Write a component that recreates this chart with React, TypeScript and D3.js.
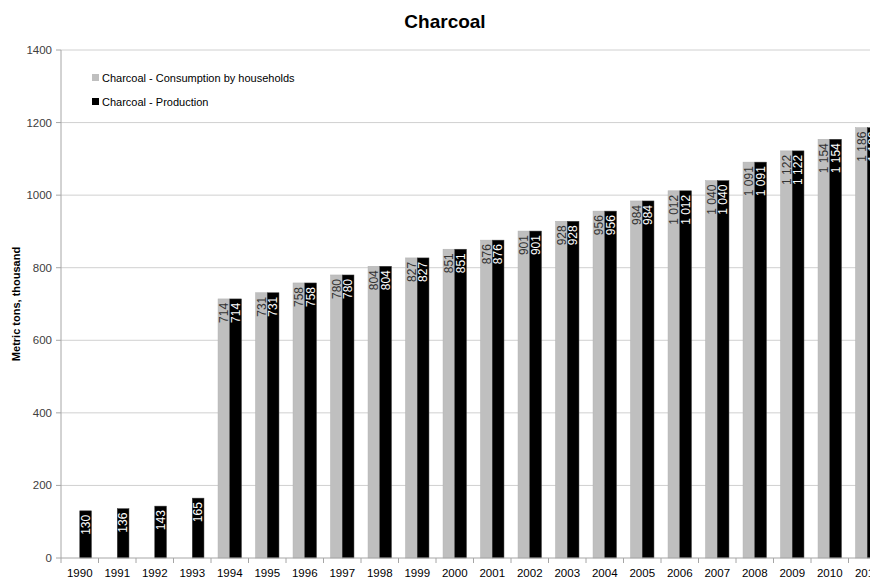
import React from "react";
import * as d3 from "d3";

const years = ["1990","1991","1992","1993","1994","1995","1996","1997","1998","1999","2000","2001","2002","2003","2004","2005","2006","2007","2008","2009","2010","2011"];
const consumption: (number | null)[] = [null,null,null,null,714,731,758,780,804,827,851,876,901,928,956,984,1012,1040,1091,1122,1154,1186];
const production: number[] = [130,136,143,165,714,731,758,780,804,827,851,876,901,928,956,984,1012,1040,1091,1122,1154,1186];
const yTicks = [0,200,400,600,800,1000,1200,1400];
const seriesNames = ["Charcoal - Consumption by households", "Charcoal - Production"];
const seriesColors = ["#bfbfbf", "#000000"];
const labelColors = ["#333333", "#ffffff"];

const W = 870, H = 579;
const left = 61, top = 50, bottom = 558;
const step = 37.5;
const font = "'Liberation Sans', Arial, sans-serif";

const fmt = (v: number) => {
  const s = String(v);
  return s.length > 3 ? s.slice(0, s.length - 3) + " " + s.slice(-3) : s;
};

export default function App() {
  const x = d3.scaleBand<string>().domain(years).range([left, left + years.length * step]).paddingInner(0).paddingOuter(0);
  const inner = d3.scaleBand<string>().domain(["c", "p"]).range([0, x.bandwidth()]).paddingInner(0).paddingOuter(0.6);
  const y = d3.scaleLinear().domain([0, 1400]).range([bottom, top]);
  const series = [consumption, production];
  const keys = ["c", "p"];

  return (
    <svg width={W} height={H} style={{ position: "absolute", left: 0, top: 0, background: "#fff" }} fontFamily={font}>
      <text x={445} y={28} textAnchor="middle" fontSize={19} fontWeight="bold" fill="#000">Charcoal</text>
      {yTicks.map(t => (
        <g key={t}>
          {t > 0 && <line x1={left} x2={W} y1={y(t)} y2={y(t)} stroke="#d0d0d0" strokeWidth={1} />}
          <line x1={left - 5} x2={left} y1={y(t)} y2={y(t)} stroke="#a6a6a6" />
          <text x={left - 9} y={y(t)} dy="0.35em" textAnchor="end" fontSize={11.5} fill="#404040">{t}</text>
        </g>
      ))}
      <text transform={`translate(20,${(top + bottom) / 2}) rotate(-90)`} textAnchor="middle" fontSize={11} fontWeight="bold" fill="#000">Metric tons,  thousand</text>
      {series.map((vals, si) => (
        <g key={si}>
          {years.map((yr, i) => {
            const v = vals[i];
            if (v == null) return null;
            const bx = (x(yr) as number) + (inner(keys[si]) as number);
            const bw = inner.bandwidth();
            return (
              <g key={yr}>
                <rect x={bx} y={y(v)} width={bw} height={y(0) - y(v)} fill={seriesColors[si]} stroke={si === 0 ? "#b0b0b0" : "#404040"} strokeWidth={0.5} />
                <text transform={`translate(${bx + bw / 2},${y(v) + 4}) rotate(-90)`} textAnchor="end" dy="0.35em" fontSize={12} fill={labelColors[si]}>{fmt(v)}</text>
              </g>
            );
          })}
        </g>
      ))}
      <line x1={left} x2={left} y1={top} y2={bottom} stroke="#a6a6a6" />
      <line x1={left} x2={W} y1={bottom} y2={bottom} stroke="#a6a6a6" />
      {years.map((yr, i) => (
        <g key={yr}>
          <line x1={x(yr) as number} x2={x(yr) as number} y1={bottom} y2={bottom + 5} stroke="#a6a6a6" />
          <text x={(x(yr) as number) + x.bandwidth() / 2} y={bottom + 19} textAnchor="middle" fontSize={11.5} fill="#000">{yr}</text>
        </g>
      ))}
      {seriesNames.map((n, i) => (
        <g key={n}>
          <rect x={92} y={74 + i * 24} width={7} height={7} fill={seriesColors[i]} />
          <text x={102} y={78 + i * 24} dy="0.35em" fontSize={11} fill="#000">{n}</text>
        </g>
      ))}
    </svg>
  );
}
